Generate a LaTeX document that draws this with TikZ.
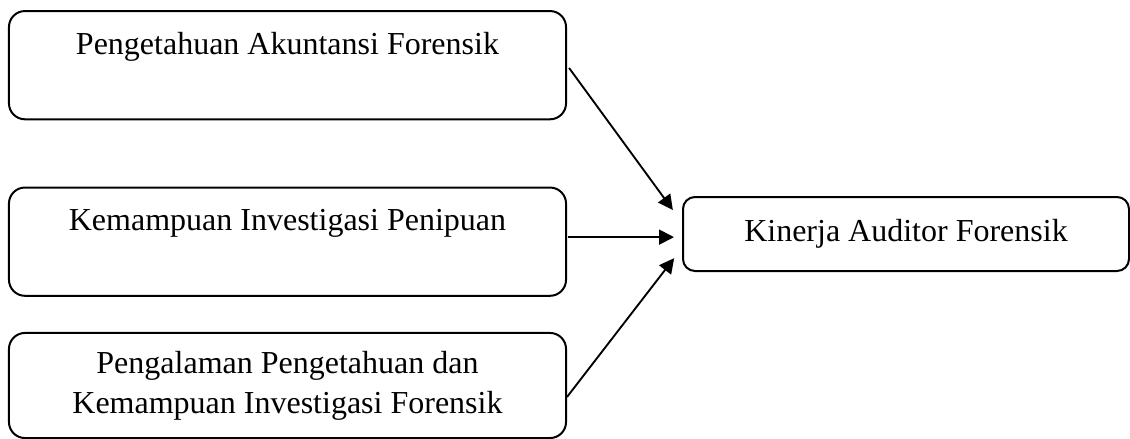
\documentclass[tikz,border=0pt]{standalone}
\usepackage{fontspec}
\setmainfont{Liberation Serif}
\usetikzlibrary{arrows.meta}

\begin{document}
\begin{tikzpicture}[
    x=0.375pt, y=-0.375pt,
    font=\fontsize{12pt}{15pt}\selectfont,
    kotak/.style={draw,line width=0.75pt,rounded corners=6pt,inner sep=0pt,minimum width=208.9pt},
    atas/.style={anchor=base,text height=16.3pt,text depth=24.3pt},
    panah/.style={line width=0.7pt,-{Triangle[length=5.6pt,width=5.6pt]},shorten <=1.3pt}
    ]
    \useasboundingbox (0,0) rectangle (1130,439);
    % variabel bebas
    \node[kotak,atas] (pak) at (287.5,54.5) {Pengetahuan Akuntansi Forensik};
    \node[kotak,atas] (kip) at (287.5,231) {Kemampuan Investigasi Penipuan};
    \node[kotak,minimum height=39.4pt,align=center] (ppk) at (287.5,385.5)
        {Pengalaman Pengetahuan dan\\Kemampuan Investigasi Forensik};
    % variabel terikat
    \node[draw,line width=0.75pt,rounded corners=4.5pt,inner sep=0pt,
        minimum width=167.25pt,minimum height=27.75pt] (kaf) at (906,234)
        {Kinerja Auditor Forensik};
    \coordinate (k2) at ([yshift=1.7pt]kip.east);
    \draw[panah,shorten >=5.8pt] (pak.east) -- ([yshift=4.3pt]kaf.west);
    \draw[panah,shorten >=3pt,shorten <=0.5pt] (k2) -- (k2 -| kaf.west);
    \draw[panah,shorten >=4.8pt,shorten <=0pt] ([yshift=-4.3pt]ppk.east) -- ([yshift=-5.25pt]kaf.west);
\end{tikzpicture}
\end{document}
